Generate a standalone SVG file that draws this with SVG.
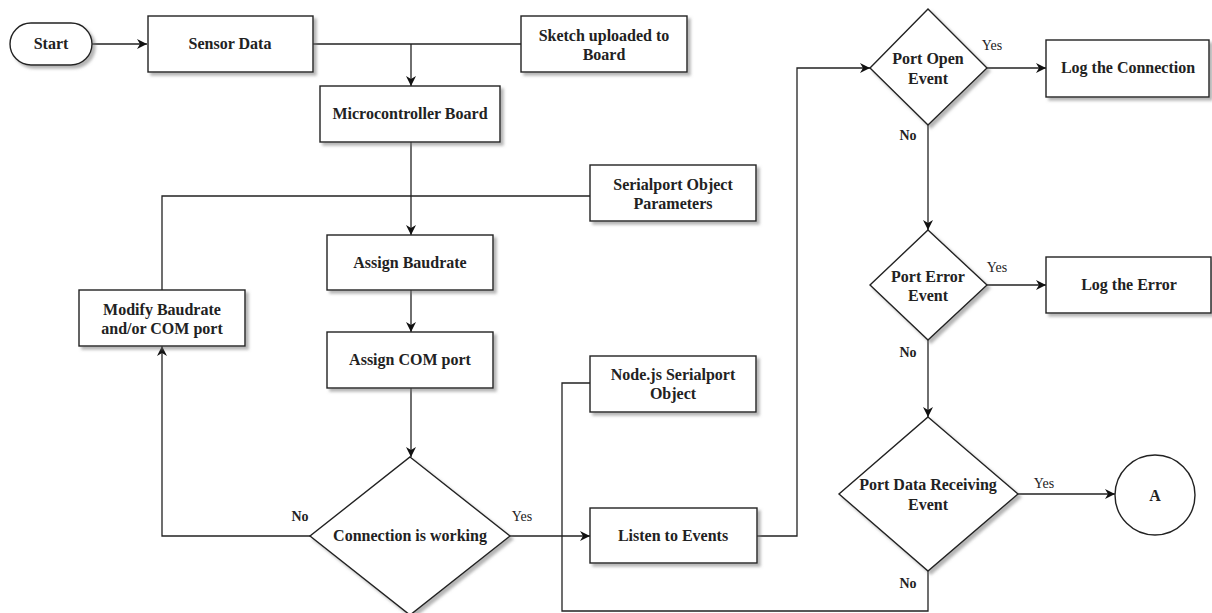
<svg xmlns="http://www.w3.org/2000/svg" width="1212" height="613" viewBox="0 0 1212 613">
<style>
.n{fill:#fff;stroke:#222;stroke-width:1.4;filter:url(#sh)}
.c{fill:none;stroke:#222;stroke-width:1.3}
.t{font-family:"Liberation Serif","Times New Roman",serif;font-size:16px;font-weight:bold;fill:#222;text-anchor:middle}
.l{font-family:"Liberation Serif","Times New Roman",serif;font-size:14px;fill:#222;text-anchor:middle}
.lb{font-weight:bold}
</style>
<defs>
<filter id="sh" x="-10%" y="-10%" width="130%" height="130%">
<feDropShadow dx="3" dy="3" stdDeviation="1.5" flood-color="#777" flood-opacity="0.55"/>
</filter>
<marker id="ar" viewBox="0 0 10 10" refX="10" refY="5" markerWidth="11" markerHeight="10" markerUnits="userSpaceOnUse" orient="auto">
<path d="M0,0 L10,5 L0,10 L3,5 z" fill="#111"/>
</marker>
</defs>
<g id="connectors">
<path class="c" d="M92,44 H147" marker-end="url(#ar)"/>
<path class="c" d="M313,44 H521"/>
<path class="c" d="M411,44 V86" marker-end="url(#ar)"/>
<path class="c" d="M411,142 V235" marker-end="url(#ar)"/>
<path class="c" d="M590,196 H162 V290"/>
<path class="c" d="M411,290 V332" marker-end="url(#ar)"/>
<path class="c" d="M411,388 V457" marker-end="url(#ar)"/>
<path class="c" d="M310,536 H162 V346" marker-end="url(#ar)"/>
<path class="c" d="M510,536 H590" marker-end="url(#ar)"/>
<path class="c" d="M757,536 H797 V68 H870" marker-end="url(#ar)"/>
<path class="c" d="M987,68 H1046" marker-end="url(#ar)"/>
<path class="c" d="M928,125 V230" marker-end="url(#ar)"/>
<path class="c" d="M987,285 H1046" marker-end="url(#ar)"/>
<path class="c" d="M928,340 V417" marker-end="url(#ar)"/>
<path class="c" d="M1018,494 H1115" marker-end="url(#ar)"/>
<path class="c" d="M928,571 V611 H562 V383 H590"/>
<text class="l" x="992" y="50">Yes</text>
<text class="l lb" x="908" y="140">No</text>
<text class="l" x="997" y="272">Yes</text>
<text class="l lb" x="908" y="357">No</text>
<text class="l" x="1044" y="488">Yes</text>
<text class="l lb" x="908" y="588">No</text>
<text class="l lb" x="300" y="521">No</text>
<text class="l" x="522" y="521">Yes</text>
</g>
<g id="start"><rect class="n" x="10" y="23" width="82" height="42" rx="21" ry="21"/><text class="t" x="51" y="49">Start</text></g>
<g id="sensor"><rect class="n" x="148" y="16" width="165" height="56"/><text class="t" x="230" y="49">Sensor Data</text></g>
<g id="sketch"><rect class="n" x="521" y="16" width="166" height="56"/><text class="t" x="604" y="41">Sketch uploaded to</text><text class="t" x="604" y="60">Board</text></g>
<g id="micro"><rect class="n" x="320" y="86" width="180" height="56"/><text class="t" x="410" y="119">Microcontroller Board</text></g>
<g id="params"><rect class="n" x="590" y="165" width="166" height="56"/><text class="t" x="673" y="190">Serialport Object</text><text class="t" x="673" y="209">Parameters</text></g>
<g id="baud"><rect class="n" x="327" y="235" width="166" height="55"/><text class="t" x="410" y="268">Assign Baudrate</text></g>
<g id="modify"><rect class="n" x="79" y="290" width="166" height="56"/><text class="t" x="162" y="315">Modify Baudrate</text><text class="t" x="162" y="334">and/or COM port</text></g>
<g id="com"><rect class="n" x="327" y="332" width="166" height="56"/><text class="t" x="410" y="365">Assign COM port</text></g>
<g id="nodejs"><rect class="n" x="590" y="356" width="166" height="56"/><text class="t" x="673" y="380">Node.js Serialport</text><text class="t" x="673" y="399">Object</text></g>
<g id="conn"><polygon class="n" points="410,457 510,536 410,615 310,536"/><text class="t" x="410" y="541">Connection is working</text></g>
<g id="listen"><rect class="n" x="590" y="508" width="167" height="55"/><text class="t" x="673" y="541">Listen to Events</text></g>
<g id="open"><polygon class="n" points="928,9 987,68 928,125 870,68"/><text class="t" x="928" y="64">Port Open</text><text class="t" x="928" y="84">Event</text></g>
<g id="logconn"><rect class="n" x="1046" y="40" width="163" height="57"/><text class="t" x="1128" y="73">Log the Connection</text></g>
<g id="error"><polygon class="n" points="928,230 987,285 928,340 870,285"/><text class="t" x="928" y="282">Port Error</text><text class="t" x="928" y="301">Event</text></g>
<g id="logerr"><rect class="n" x="1046" y="257" width="165" height="56"/><text class="t" x="1129" y="290">Log the Error</text></g>
<g id="data"><polygon class="n" points="928,417 1018,494 928,571 839,494"/><text class="t" x="928" y="490">Port Data Receiving</text><text class="t" x="928" y="510">Event</text></g>
<g id="a"><circle cx="1155" cy="495" r="40" fill="#fff" stroke="#222" stroke-width="1.4"/><text class="t" x="1155" y="501">A</text></g>
</svg>
